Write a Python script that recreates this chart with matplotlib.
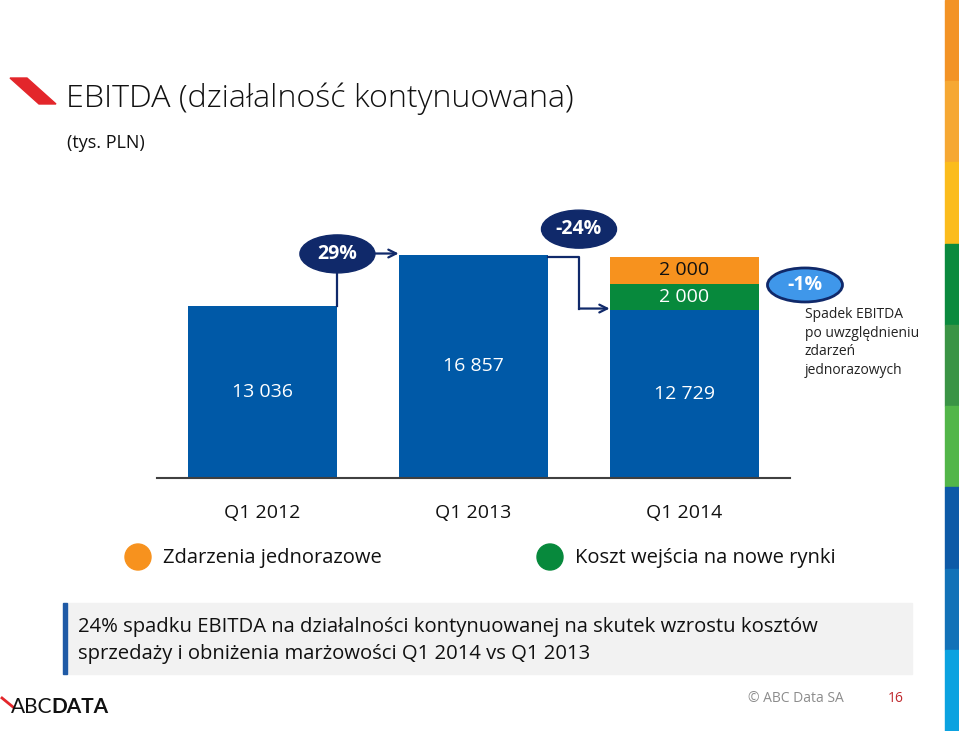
import numpy as np
import matplotlib.pyplot as plt
from matplotlib.patches import Ellipse, Polygon, Rectangle, Circle

plt.rcParams['font.family'] = ['Open Sans', 'DejaVu Sans']

categories = ['Q1 2012', 'Q1 2013', 'Q1 2014']
ebitda = [13036, 16857, 12729]
market_entry = [0, 0, 2000]   # Koszt wejścia na nowe rynki
one_off = [0, 0, 2000]        # Zdarzenia jednorazowe
changes = ['29%', '-24%']
adjusted_change = '-1%'
legend_labels = ['Zdarzenia jednorazowe', 'Koszt wejścia na nowe rynki']

BLUE = '#0059a7'
GREEN = '#07893c'
ORANGE = '#f7921e'
NAVY = '#10296a'
LIGHT = '#3f97ea'

W, H = 959, 731
fig = plt.figure(figsize=(W / 100, H / 100), dpi=100)


def px(x, y, w, h):
    return [x / W, 1 - (y + h) / H, w / W, h / H]


# page decorations in pixel coordinates
bg = fig.add_axes([0, 0, 1, 1])
bg.set_xlim(0, W)
bg.set_ylim(H, 0)
bg.axis('off')

bg.add_patch(Polygon([(10, 78), (27, 78), (56, 104), (39, 104)], color='#e3262b'))
bg.text(66, 107, 'EBITDA (działalność kontynuowana)', size=23.2, va='baseline',
        color='#111111', weight='light')
bg.text(67, 143, '(tys. PLN)', size=13, va='center', color='#111111')

stripe = ['#f39325', '#f6a833', '#fbbc1c', '#0b8a3e', '#3a9445',
          '#52b649', '#0d5aa7', '#1272b8', '#0ba2e0']
for i, c in enumerate(stripe):
    bg.add_patch(Rectangle((945, i * H / 9), 14, H / 9, color=c))

# legend
for (cx, lab, col) in [(138, legend_labels[0], ORANGE), (550, legend_labels[1], GREEN)]:
    bg.add_patch(Circle((cx, 557), 13, color=col))
    bg.text(cx + 25, 558, lab, size=14.5, va='center', color='#111111')

# comment box
bg.add_patch(Rectangle((63, 603), 849, 71, color='#f2f2f2'))
bg.add_patch(Rectangle((63, 603), 4, 71, color='#1f5aa6'))
bg.text(78, 627, '24% spadku EBITDA na działalności kontynuowanej na skutek wzrostu kosztów',
        size=14.6, va='center', color='#111111')
bg.text(78, 654, 'sprzedaży i obniżenia marżowości Q1 2014 vs Q1 2013',
        size=14.6, va='center', color='#111111')

# footer
bg.plot([2, 13], [698, 707], color='#e3262b', lw=2)
bg.text(11, 707, 'ABC', size=15, va='center', color='#111111', family='Lato')
bg.text(51.5, 707, 'DATA', size=15, va='center', color='#111111', family='Lato', weight='bold')
bg.text(748, 698, '© ABC Data SA', size=10, va='center', color='#8c8c8c')
bg.text(888, 698, '16', size=10, va='center', color='#c0282d')

# chart
scale = 0.01317  # px per thousand PLN
ax = fig.add_axes(px(157, 200, 633, 277.5))
ax.set_xlim(-0.5, 2.5)
ax.set_ylim(0, 277.5 / scale)
x = np.arange(len(categories))
bw = 0.71
half = bw / 2
stack2 = np.add(ebitda, market_entry)
ax.bar(x, ebitda, bw, color=BLUE)
ax.bar(x, market_entry, bw, bottom=ebitda, color=GREEN)
ax.bar(x, one_off, bw, bottom=stack2, color=ORANGE)

for s in ['top', 'left', 'right']:
    ax.spines[s].set_visible(False)
ax.spines['bottom'].set_color('#404040')
ax.spines['bottom'].set_linewidth(1.5)
ax.set_yticks([])
ax.set_xticks(x, categories, fontsize=14, color='#111111')
ax.tick_params(axis='x', length=0, pad=19)


def fmt(v):
    return f'{v:,}'.replace(',', ' ')


for i in x:
    ax.text(i, ebitda[i] / 2, fmt(ebitda[i]), ha='center', va='center', color='white', fontsize=14)
    if market_entry[i]:
        ax.text(i, ebitda[i] + market_entry[i] / 2, fmt(market_entry[i]),
                ha='center', va='center', color='white', fontsize=14)
    if one_off[i]:
        ax.text(i, stack2[i] + one_off[i] / 2, fmt(one_off[i]),
                ha='center', va='center', color='#111111', fontsize=14)

ew, eh = 75 / 211, 38 / scale
line = dict(color=NAVY, lw=1.6)
arrow = dict(arrowstyle='->', color=NAVY, lw=1.6, shrinkA=0, shrinkB=0, mutation_scale=14)

# 29%
b1 = (half, ebitda[1] + 120)
ax.plot([half, half], [ebitda[0], b1[1]], **line)
ax.annotate('', xy=(1 - half, ebitda[1] + 150), xytext=(half + ew / 2, ebitda[1] + 150), arrowprops=arrow)
ax.add_patch(Ellipse(b1, ew, eh, color=NAVY, zorder=5))
ax.text(*b1, changes[0], ha='center', va='center', color='white', fontsize=14, weight='bold', zorder=6)

# -24%
b2 = (1.5, ebitda[1] + 2000)
ax.plot([1 + half, 1.5, 1.5], [ebitda[1] - 150, ebitda[1] - 150, ebitda[2] + 100], **line)
ax.annotate('', xy=(2 - half, ebitda[2] + 100), xytext=(1.5, ebitda[2] + 100), arrowprops=arrow)
ax.add_patch(Ellipse(b2, ew, eh, color=NAVY, zorder=5))
ax.text(*b2, changes[1], ha='center', va='center', color='white', fontsize=14, weight='bold', zorder=6)

# -1%
b3 = (2.571, stack2[2] + one_off[2] - 2110)
ax.add_patch(Ellipse(b3, ew, 34 / scale, facecolor=LIGHT, edgecolor=NAVY, lw=2, zorder=5, clip_on=False))
ax.text(*b3, adjusted_change, ha='center', va='center', color='white', fontsize=14, weight='bold',
        zorder=6, clip_on=False)
ax.text(b3[0], b3[1] - 1700, 'Spadek EBITDA\npo uwzględnieniu\nzdarzeń\njednorazowych',
        ha='left', va='top', fontsize=10, color='#222222', linespacing=1.32)

fig.savefig('out.png', dpi=100)
